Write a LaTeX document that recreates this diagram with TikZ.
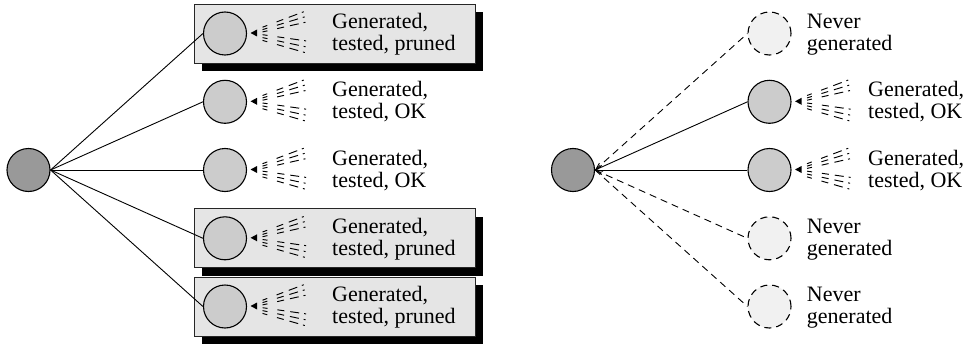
\documentclass[tikz,border=0pt]{standalone}
\usepackage{fontspec}
\setmainfont{Liberation Serif}
\usetikzlibrary{arrows.meta,shadows}

\definecolor{rootgray}{gray}{0.6}
\definecolor{kidgray}{gray}{0.8}
\definecolor{ghostgray}{gray}{0.945}
\definecolor{panelgray}{gray}{0.9}

\tikzset{
  state/.style={circle, draw, line width=1.1pt, minimum size=43pt, inner sep=0pt},
  rootstate/.style={state, fill=rootgray},
  kid/.style={state, fill=kidgray},
  ghost/.style={state, fill=ghostgray, dash pattern=on 7pt off 5pt},
  edge/.style={line width=0.9pt},
  ghostedge/.style={line width=0.9pt, dash pattern=on 7pt off 5pt},
  backedge/.style={line width=0.9pt, -{Straight Barb[length=6pt,width=9pt,line width=0.9pt]}},
  panel/.style={rectangle, draw=black!85, line width=0.8pt, fill=panelgray,
    minimum width=281pt, minimum height=59pt, inner sep=0pt,
    drop shadow={shadow xshift=8pt, shadow yshift=-8pt, fill=black, opacity=1}},
  lbl/.style={anchor=base west, inner sep=0pt, font=\fontsize{22pt}{22pt}\selectfont},
  raydash/.style={line width=0.95pt,
    dash pattern=on 5pt off 10pt on 7pt off 6pt on 9pt off 5pt on 2pt off 20pt},
  % small test probe: a pointer at the node plus a fan of dashed rays
  probe/.pic={
    \fill (3.5,-0.5) -- (10,-4) -- (10,3) -- cycle;
    \foreach \ya/\yb in {-6.3/-23.2, -3.9/-17.5, -1.6/-11.7, 1.2/7.6, 4.1/13.7, 6.9/19.8}
      \draw[raydash] (15.5,\ya) -- (60.5,\yb);
  }
}

\newcommand{\twolines}[2]{\parbox[t]{6cm}{\raggedright #1\\#2}}

\begin{document}
\begin{tikzpicture}[x=1pt, y=-1pt]
  \useasboundingbox (0,0) rectangle (966,345);

  % ---- left tree: generated and tested children ----
  \node[panel] (p1) at (334.5,33.5) {};
  \node[panel] (p4) at (334.5,238.3) {};
  \node[panel] (p5) at (334.5,306.5) {};

  \node[rootstate] (L) at (28.5,170) {};
  \node[kid] (l1) at (225,33.5) {};
  \node[kid] (l2) at (225,101.8) {};
  \node[kid] (l3) at (225,170) {};
  \node[kid] (l4) at (225,238.3) {};
  \node[kid] (l5) at (225,306.5) {};

  \foreach \k in {l1,l2,l3,l4,l5} {
    \draw[edge] (L.east) -- (\k.west);
    \pic at (\k.east) {probe};
  }

  \node[lbl] (tl1) at (332,28.5)  {\twolines{Generated,}{tested, pruned}};
  \node[lbl] (tl2) at (332,96.8)  {\twolines{Generated,}{tested, OK}};
  \node[lbl] (tl3) at (332,165)   {\twolines{Generated,}{tested, OK}};
  \node[lbl] (tl4) at (332,233.3) {\twolines{Generated,}{tested, pruned}};
  \node[lbl] (tl5) at (332,301.5) {\twolines{Generated,}{tested, pruned}};

  % ---- right tree: children generated one at a time ----
  \node[rootstate] (R) at (573,170) {};
  \node[ghost] (r1) at (769.5,33.5) {};
  \node[kid]   (r2) at (769.5,101.8) {};
  \node[kid]   (r3) at (769.5,170) {};
  \node[ghost] (r4) at (769.5,238.3) {};
  \node[ghost] (r5) at (769.5,306.5) {};

  \foreach \k in {r1,r4,r5}
    \draw[ghostedge] (R.east) -- (\k.west);
  \foreach \k in {r2,r3} {
    \draw[backedge] (\k.west) -- (R.east);
    \pic at (\k.east) {probe};
  }

  \node[lbl] (tr1) at (806.7,28.5)  {\twolines{Never}{generated}};
  \node[lbl] (tr2) at (868,96.8)    {\twolines{Generated,}{tested, OK}};
  \node[lbl] (tr3) at (868,165)     {\twolines{Generated,}{tested, OK}};
  \node[lbl] (tr4) at (806.7,233.3) {\twolines{Never}{generated}};
  \node[lbl] (tr5) at (806.7,301.5) {\twolines{Never}{generated}};
\end{tikzpicture}
\end{document}
